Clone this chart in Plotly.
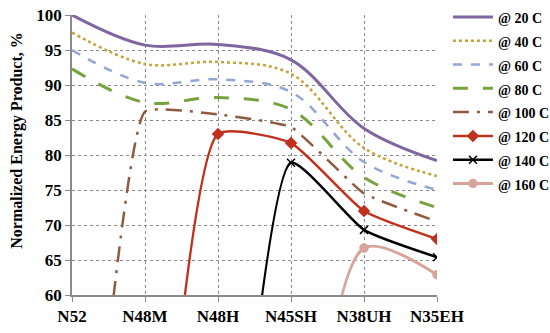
import plotly.graph_objects as go

grades = ["N52", "N48M", "N48H", "N45SH", "N38UH", "N35EH"]
series_names = ["@ 20 C", "@ 40 C", "@ 60 C", "@ 80 C", "@ 100 C", "@ 120 C", "@ 140 C", "@ 160 C"]
v20 = [100.0, 95.7, 95.8, 93.6, 83.8, 79.2]
v40 = [97.5, 93.0, 93.3, 91.6, 81.0, 77.0]
v60 = [95.0, 90.3, 90.8, 89.0, 79.0, 75.0]
v80 = [92.3, 87.5, 88.2, 86.5, 76.8, 72.5]
v100 = [0.0, 86.2, 85.8, 84.0, 74.5, 70.5]
v120 = [None, 0.0, 83.0, 81.7, 72.0, 68.0]
v140 = [None, None, 0.0, 78.9, 69.3, 65.4]
v160 = [None, None, None, 0.0, 66.7, 62.9]
values = [v20, v40, v60, v80, v100, v120, v140, v160]
y_title = "Normalized Energy Product, %"

colors = ["#7F66A0", "#C4A23C", "#94A5D8", "#76A33C", "#8E5B40", "#C0301C", "#000000", "#D8A49A"]
dashes = ["solid", "dot", "dash", "longdash", "16px,8px,3px,8px", "solid", "solid", "solid"]
widths = [3, 2.5, 2.5, 3, 2.5, 2.5, 2.5, 3]
smooth = [1.0, 1.0, 1.0, 1.0, 0.35, 0.5, 0.5, 0.8]
markers = [None, None, None, None, None, "diamond", "x-thin", "circle"]

fig = go.Figure()
for i, (name, vals) in enumerate(zip(series_names, values)):
    xs = [g for g, v in zip(grades, vals) if v is not None]
    ys = [v for v in vals if v is not None]
    mk = markers[i]
    mode = "lines+markers" if mk else "lines"
    mdict = dict(symbol=mk, size=8, color=colors[i],
                 line=dict(color=colors[i], width=1.5)) if mk else None
    fig.add_trace(go.Scatter(
        x=xs, y=ys, name="<span style='font-size:14px'>" + name + "</span>", mode=mode,
        line=dict(color=colors[i], width=widths[i], dash=dashes[i], shape="spline", smoothing=smooth[i]),
        marker=mdict,
    ))

tickfont = dict(family="Liberation Serif", size=17, color="black", weight="bold")
fig.update_layout(
    width=550, height=333,
    margin=dict(l=72, r=113, t=15, b=38, autoexpand=False),
    paper_bgcolor="white", plot_bgcolor="white",
    font=dict(family="Liberation Serif", size=15, color="black"),
    showlegend=True,
    legend=dict(x=1.03, y=1.0, xref="paper", yref="container", xanchor="left", yanchor="top",
                font=dict(family="Liberation Serif", size=16, color="black", weight="bold"),
                itemwidth=40, bgcolor="rgba(0,0,0,0)"),
    xaxis=dict(type="category", categoryorder="array", categoryarray=grades,
               range=[0, 5], showgrid=True, gridcolor="#8a8a8a", griddash="dot", gridwidth=1,
               showline=True, linecolor="#8a8a8a", linewidth=1.5,
               ticks="outside", ticklen=5, tickcolor="#8a8a8a",
               tickfont=tickfont, zeroline=False),
    yaxis=dict(range=[60, 100], dtick=5, showgrid=True, gridcolor="#8a8a8a", griddash="dot", gridwidth=1,
               showline=True, linecolor="#8a8a8a", linewidth=1.5,
               ticks="outside", ticklen=5, tickcolor="#8a8a8a",
               tickfont=tickfont, zeroline=False),
    annotations=[dict(text=y_title, textangle=-90, xref="paper", yref="paper",
                      x=-0.151, y=0.554, xanchor="center", yanchor="middle", showarrow=False,
                      font=dict(family="Liberation Serif", size=16, color="black", weight="bold"))],
)
try:
    fig.update_layout(legend_maxheight=320)
except Exception:
    pass

fig.write_html("out.html", config={"displayModeBar": False},
               post_script="document.body.style.margin='0';")
